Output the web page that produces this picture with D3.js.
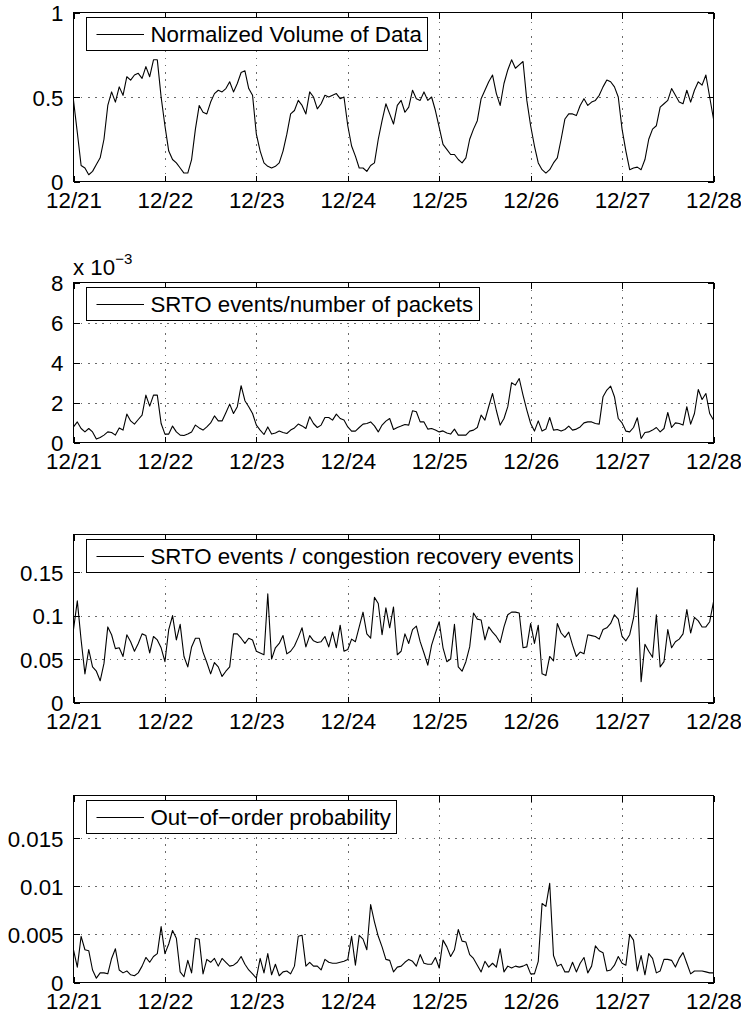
<!DOCTYPE html>
<html><head><meta charset="utf-8">
<script src="https://cdn.jsdelivr.net/npm/d3@7"></script>
<style>
body{margin:0;background:#fff}
text{font-family:"Liberation Sans",Arial,Helvetica,sans-serif;fill:#000}
</style>
</head><body>
<svg id="c" width="741" height="1016"></svg>
<script>
// ---- data (hourly samples, 12/21 00:00 .. 12/28 00:00) ----
const dayLabels = ["12/21","12/22","12/23","12/24","12/25","12/26","12/27","12/28"];
const dayTicks = [0,24,48,72,96,120,144,168];

const volume = [
0.48,0.29,0.095,0.08,0.04,0.06,0.10,0.14,0.25,0.45,0.53,0.47,0.56,0.51,0.62,0.60,0.63,0.64,0.61,0.68,0.62,0.72,0.72,0.50,
0.33,0.18,0.13,0.11,0.08,0.05,0.05,0.13,0.31,0.45,0.41,0.40,0.47,0.52,0.54,0.53,0.55,0.59,0.53,0.58,0.645,0.655,0.55,0.51,
0.28,0.18,0.11,0.09,0.08,0.09,0.11,0.18,0.28,0.40,0.42,0.48,0.45,0.40,0.53,0.50,0.43,0.46,0.51,0.50,0.51,0.52,0.49,0.50,
0.33,0.21,0.15,0.08,0.08,0.06,0.095,0.11,0.25,0.36,0.46,0.40,0.34,0.45,0.48,0.41,0.44,0.54,0.49,0.48,0.53,0.48,0.50,0.42,
0.32,0.22,0.19,0.16,0.16,0.13,0.11,0.14,0.25,0.31,0.36,0.49,0.54,0.59,0.63,0.52,0.45,0.58,0.66,0.72,0.67,0.69,0.71,0.48,
0.33,0.21,0.11,0.07,0.05,0.07,0.11,0.14,0.25,0.37,0.40,0.40,0.39,0.45,0.49,0.45,0.47,0.48,0.51,0.56,0.60,0.59,0.56,0.50,
0.31,0.18,0.07,0.08,0.085,0.07,0.13,0.25,0.31,0.33,0.44,0.46,0.48,0.55,0.51,0.47,0.46,0.54,0.47,0.54,0.59,0.57,0.63,0.50,
0.37];

// SRTO events / number of packets, in units of 1e-3
const srtoPackets = [
0.78,1.03,0.70,0.53,0.70,0.53,0.17,0.25,0.37,0.53,0.50,0.37,0.73,0.62,1.42,1.08,0.92,1.15,1.37,2.37,1.82,2.37,2.37,0.95,
0.42,0.42,0.82,0.53,0.37,0.35,0.42,0.53,0.87,0.73,0.62,0.78,0.98,1.33,1.08,1.08,1.49,1.92,1.45,1.79,2.84,2.09,1.79,1.45,
0.87,0.62,0.40,0.78,0.42,0.48,0.57,0.50,0.45,0.62,0.73,0.92,0.83,0.70,1.29,0.95,0.75,0.87,1.25,1.25,1.12,1.42,1.20,1.12,
0.78,0.57,0.57,0.75,0.92,0.95,1.03,0.83,0.53,0.87,1.07,1.20,0.65,0.75,0.82,0.90,0.87,1.59,1.54,1.03,1.03,0.67,0.70,0.62,
0.53,0.58,0.48,0.42,0.67,0.37,0.37,0.37,0.57,0.62,0.75,1.37,1.12,1.80,2.45,1.60,0.87,1.20,1.79,2.99,2.87,3.20,2.37,1.62,
0.95,0.57,1.08,0.57,0.67,1.25,0.62,0.65,0.57,0.65,0.82,0.62,0.67,0.78,0.98,1.03,1.03,0.95,0.92,2.29,2.62,2.82,2.29,1.20,
0.98,0.57,0.53,0.75,1.24,0.20,0.50,0.53,0.62,0.75,0.53,0.70,1.50,0.75,0.98,0.95,0.87,1.79,0.92,1.45,2.65,2.15,2.45,1.45,
1.12];

// SRTO events / congestion recovery events
const srtoRecovery = [
0.084,0.117,0.072,0.033,0.061,0.041,0.036,0.025,0.045,0.087,0.078,0.062,0.063,0.053,0.078,0.070,0.059,0.068,0.079,0.077,0.057,0.076,0.072,0.063,
0.047,0.084,0.100,0.072,0.090,0.053,0.041,0.064,0.074,0.074,0.058,0.046,0.033,0.046,0.041,0.030,0.036,0.041,0.079,0.079,0.074,0.068,0.074,0.072,
0.059,0.057,0.055,0.125,0.050,0.063,0.068,0.077,0.056,0.059,0.065,0.075,0.086,0.064,0.077,0.071,0.069,0.070,0.076,0.064,0.081,0.063,0.089,0.059,
0.061,0.073,0.070,0.087,0.104,0.079,0.074,0.121,0.114,0.078,0.109,0.086,0.110,0.055,0.059,0.079,0.068,0.084,0.088,0.070,0.057,0.043,0.066,0.080,
0.093,0.063,0.047,0.050,0.090,0.041,0.036,0.047,0.064,0.103,0.096,0.095,0.072,0.087,0.081,0.076,0.069,0.087,0.101,0.104,0.104,0.103,0.063,0.064,
0.091,0.068,0.089,0.033,0.031,0.053,0.048,0.091,0.080,0.075,0.081,0.066,0.053,0.058,0.056,0.078,0.077,0.076,0.073,0.084,0.086,0.091,0.101,0.096,
0.076,0.071,0.078,0.097,0.132,0.024,0.067,0.059,0.052,0.101,0.041,0.047,0.084,0.063,0.070,0.073,0.079,0.107,0.080,0.098,0.094,0.087,0.087,0.093,
0.116];

// Out-of-order probability, in units of 1e-3
const outOfOrder = [
3.4,1.6,4.8,3.4,3.3,1.3,0.45,1.0,1.0,0.9,2.5,3.5,1.3,1.0,1.2,0.8,0.7,1.0,1.7,2.6,2.1,2.7,3.0,5.8,
3.0,4.0,5.4,4.6,1.1,0.6,2.3,1.0,4.6,4.5,0.9,2.4,2.1,2.5,1.7,2.5,2.1,1.7,1.8,2.1,2.7,1.9,1.3,0.9,
0.45,2.5,1.0,3.0,0.8,1.9,0.7,1.1,1.2,0.9,1.7,4.8,4.9,1.7,2.1,1.7,1.7,1.3,2.4,2.1,2.0,2.0,2.1,2.2,
2.4,4.8,1.8,4.9,4.5,3.4,8.1,6.3,4.8,3.7,2.4,2.3,1.1,1.6,1.7,2.1,2.4,2.2,1.7,2.9,2.0,1.9,1.9,2.6,
1.5,4.4,3.7,2.7,3.4,5.5,4.3,4.2,2.9,2.5,1.8,1.1,2.2,1.6,2.0,1.6,3.5,1.1,1.7,1.5,1.7,1.6,1.7,1.9,
0.9,0.9,2.2,8.2,7.9,10.3,2.8,1.7,1.9,1.1,1.1,2.1,1.1,2.0,2.6,1.0,1.7,3.8,3.3,3.1,1.2,1.3,1.8,2.7,
2.0,1.8,5.0,4.4,1.2,2.8,0.8,3.0,2.5,1.0,1.2,2.4,2.4,2.3,1.6,2.5,3.1,2.0,0.9,1.2,1.2,1.2,1.1,1.0,
1.0];

const yTicks1 = [0,0.5,1],            yLabels1 = ["0","0.5","1"];
const yTicks2 = [0,2,4,6,8],          yLabels2 = ["0","2","4","6","8"];
const yTicks3 = [0,0.05,0.1,0.15],    yLabels3 = ["0","0.05","0.1","0.15"];
const yTicks4 = [0,5,10,15],          yLabels4 = ["0","0.005","0.01","0.015"];

const legends = ["Normalized Volume of Data","SRTO events/number of packets",
                 "SRTO events / congestion recovery events","Out\u2212of\u2212order probability"];

// ---- layout ----
const panels = [
  {top:12.5, bottom:181.5, domain:[0,1],      ticks:yTicks1, labels:yLabels1, data:volume,       legend:legends[0]},
  {top:282.5,bottom:442.5, domain:[0,8],      ticks:yTicks2, labels:yLabels2, data:srtoPackets,  legend:legends[1], mult:true},
  {top:534.5,bottom:702.5, domain:[0,0.1934], ticks:yTicks3, labels:yLabels3, data:srtoRecovery, legend:legends[2]},
  {top:795.5,bottom:982.5, domain:[0,19.42],  ticks:yTicks4, labels:yLabels4, data:outOfOrder,   legend:legends[3]}
];
const X0 = 73.5, X1 = 713.5, TL = 6, FS = 22.3;

const svg = d3.select("#c");
const x = d3.scaleLinear().domain([0,168]).range([X0,X1]);

panels.forEach(p => {
  const y = d3.scaleLinear().domain(p.domain).range([p.bottom,p.top]);
  const g = svg.append("g");

  // grid (dotted)
  const grid = g.append("g").attr("stroke","#6a6a6a").attr("stroke-width",1)
     .attr("stroke-dasharray","1.6,5.6").attr("shape-rendering","crispEdges");
  dayTicks.slice(1,-1).forEach(t => grid.append("line")
     .attr("x1",Math.round(x(t))+0.5).attr("x2",Math.round(x(t))+0.5).attr("y1",p.bottom).attr("y2",p.top));
  p.ticks.forEach(t => { const yy=y(t); if (yy>p.top+1 && yy<p.bottom-1) grid.append("line")
     .attr("x1",X0).attr("x2",X1).attr("y1",Math.round(yy)+0.5).attr("y2",Math.round(yy)+0.5); });

  // axes (bottom labelled, top/right mirrored ticks, inward)
  const xb = d3.axisBottom(x).tickValues(dayTicks).tickSize(-TL).tickPadding(10.5).tickFormat((d,i)=>dayLabels[i]);
  const xt = d3.axisTop(x).tickValues(dayTicks).tickSize(-TL).tickFormat("");
  const yl = d3.axisLeft(y).tickValues(p.ticks).tickSize(-TL).tickPadding(10).tickFormat((d,i)=>p.labels[i]);
  const yr = d3.axisRight(y).tickValues(p.ticks).tickSize(-TL).tickFormat("");
  const style = a => { a.select(".domain").remove(); a.selectAll("line").attr("stroke","#000").attr("shape-rendering","crispEdges");
                       a.selectAll("text").style("font-size",FS+"px").attr("fill","#000"); };
  g.append("g").attr("transform",`translate(0,${p.bottom})`).call(xb).call(style)
     .selectAll("text").attr("dy","0.72em");
  g.append("g").attr("transform",`translate(0,${p.top})`).call(xt).call(style);
  g.append("g").attr("transform",`translate(${X0},0)`).call(yl).call(style).selectAll("text").attr("dy","0.36em");
  g.append("g").attr("transform",`translate(${X1},0)`).call(yr).call(style);

  // data line
  const line = d3.line().x((d,i)=>x(i)).y(d=>y(d));
  g.append("path").datum(p.data).attr("d",line).attr("fill","none")
     .attr("stroke","#000").attr("stroke-width",1.1).attr("stroke-linejoin","round");

  // box
  g.append("rect").attr("x",X0).attr("y",p.top).attr("width",X1-X0).attr("height",p.bottom-p.top)
     .attr("fill","none").attr("stroke","#000").attr("shape-rendering","crispEdges");

  // legend
  const ly = p.top + 4.5, lh = 33;
  const lg = g.append("g");
  const rect = lg.append("rect").attr("x",86.5).attr("y",Math.round(ly)+0.5).attr("height",lh)
     .attr("fill","#fff").attr("stroke","#000").attr("shape-rendering","crispEdges");
  lg.append("line").attr("x1",96.5).attr("x2",144).attr("y1",Math.round(ly+lh/2)+0.5).attr("y2",Math.round(ly+lh/2)+0.5)
     .attr("stroke","#000").attr("stroke-width",1);
  const t = lg.append("text").attr("x",150.5).attr("y",ly+lh/2+8.3).style("font-size",FS+"px").text(p.legend);
  const w = t.node().getComputedTextLength();
  rect.attr("width", 150.5 + w + 6 - 86.5);

  if (p.mult) {
    const m = g.append("text").attr("x",73).attr("y",p.top-7.5).style("font-size",FS+"px");
    m.append("tspan").text("x 10");
    m.append("tspan").attr("dy",-11).style("font-size","15px").text("\u22123");
  }
});
</script>
</body></html>
